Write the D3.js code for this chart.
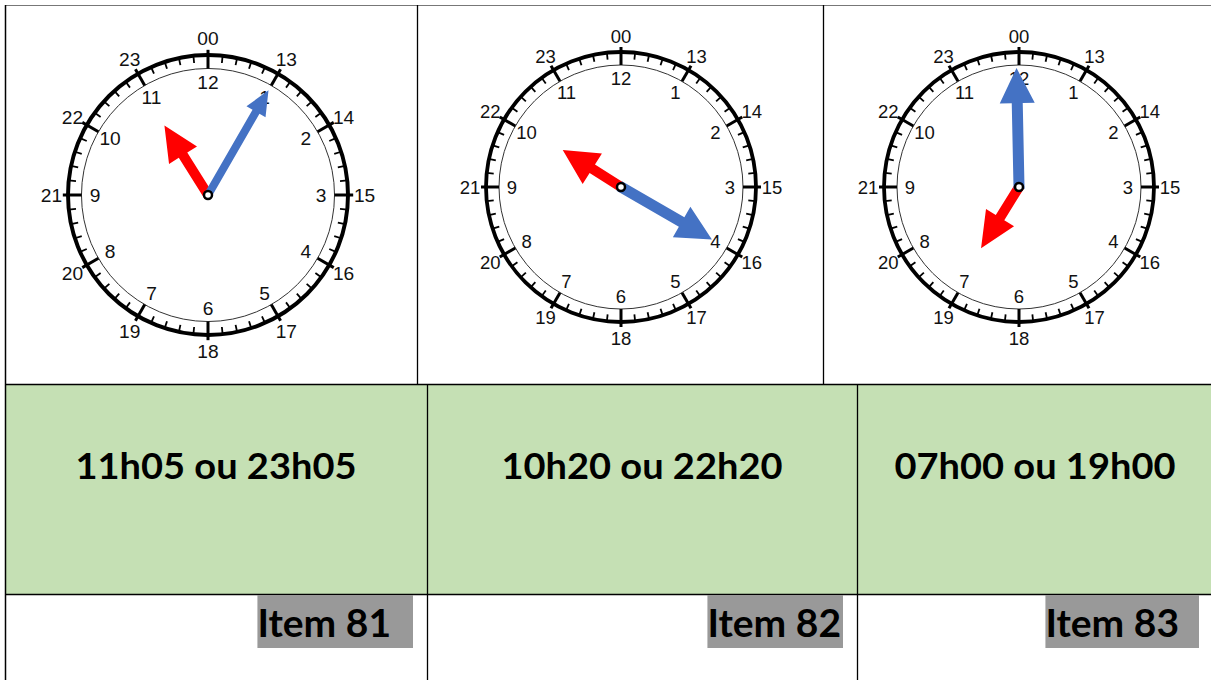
<!DOCTYPE html>
<html>
<head>
<meta charset="utf-8">
<script src="https://cdn.jsdelivr.net/npm/d3@7"></script>
<style>
  body { margin: 0; background: #fff; }
  svg { display: block; }
</style>
</head>
<body>
<svg></svg>
<script>
// values
const times      = ["11h05 ou 23h05", "10h20 ou 22h20", "07h00 ou 19h00"];
const items      = ["Item 81", "Item 82", "Item 83"];
const hourHand   = [10.93, 10.08, 7.06];   // where the red hand points, in dial hours
const minuteHand = [5.0, 20.0, 59.8];      // where the blue hand points, in minutes
const innerLabels = ["12","1","2","3","4","5","6","7","8","9","10","11"];
const outerLabels = ["00","13","14","15","16","17","18","19","20","21","22","23"];

let width = 1211, height = 680,
    topCols = [5, 417, 823, 1213],
    lowCols = [5, 427, 857, 1213],
    rowY = [5, 384, 594, 680],
    itemPad = [22, 2, 20],
    clocks = [
      {cx: 208, cy: 195, r: 140, hour: [82, 10, 33, 35], minute: [121, 8, 22, 25]},
      {cx: 621, cy: 187, r: 135, hour: [69, 10, 36, 35], minute: [105, 11, 35, 35]},
      {cx: 1019, cy: 187, r: 135, hour: [72, 10, 33, 36], minute: [119, 11, 35, 35]}
    ],
    hourScale = d3.scaleLinear().domain([0, 12]).range([0, 360]),
    minuteScale = d3.scaleLinear().domain([0, 60]).range([0, 360]),
    rad = a => (a - 90) * Math.PI / 180,

    svg = d3.select("svg")
            .attr("width", width)
            .attr("height", height);

// green row
svg.append("rect")
    .attr("x", lowCols[0]).attr("y", rowY[1])
    .attr("width", width - lowCols[0]).attr("height", rowY[2] - rowY[1])
    .attr("fill", "#c5e0b4");

// table lines
let grid = svg.append("g").attr("stroke", "#000").attr("fill", "none");
grid.append("line").attr("x1", 5).attr("x2", width).attr("y1", 5.5).attr("y2", 5.5)
    .attr("stroke", "#777").attr("stroke-width", 1);
grid.append("line").attr("x1", 5.5).attr("x2", 5.5).attr("y1", 5).attr("y2", height).attr("stroke-width", 1.5);
[rowY[1], rowY[2]].forEach(y => {
  grid.append("line").attr("x1", 5).attr("x2", width).attr("y1", y + 0.5).attr("y2", y + 0.5).attr("stroke-width", 1.3);
});
topCols.slice(1, 3).forEach(x => {
  grid.append("line").attr("x1", x + 0.5).attr("x2", x + 0.5).attr("y1", 5).attr("y2", rowY[1]).attr("stroke-width", 1.3);
});
lowCols.slice(1, 3).forEach(x => {
  grid.append("line").attr("x1", x + 0.5).attr("x2", x + 0.5).attr("y1", rowY[1]).attr("y2", height).attr("stroke-width", 1.3);
});

// clocks
function handPath(len, shaft, headW, headL) {
  let b = len - headL;
  return `M${-shaft/2},2 L${-shaft/2},${-b} L${-headW/2},${-b} L0,${-len} L${headW/2},${-b} L${shaft/2},${-b} L${shaft/2},2 Z`;
}

clocks.forEach((c, i) => {
  let k = c.r / 135,
      g = svg.append("g").attr("transform", `translate(${c.cx},${c.cy})`);

  g.append("circle").attr("r", c.r).attr("fill", "#fff")
      .attr("stroke", "#000").attr("stroke-width", 3.8 * k);
  g.append("circle").attr("r", c.r - 13 * k).attr("fill", "none")
      .attr("stroke", "#333").attr("stroke-width", 1);

  g.selectAll(".tick")
    .data(d3.range(60))
    .enter()
    .append("line")
      .attr("x1", d => Math.cos(rad(minuteScale(d))) * (d % 5 ? c.r - 7 * k : c.r - 13 * k))
      .attr("y1", d => Math.sin(rad(minuteScale(d))) * (d % 5 ? c.r - 7 * k : c.r - 13 * k))
      .attr("x2", d => Math.cos(rad(minuteScale(d))) * (d % 5 ? c.r : c.r + 5 * k))
      .attr("y2", d => Math.sin(rad(minuteScale(d))) * (d % 5 ? c.r : c.r + 5 * k))
      .attr("stroke", "#000")
      .attr("stroke-width", d => d % 5 ? 1.8 : 3);

  g.selectAll(".inner")
    .data(innerLabels)
    .enter()
    .append("text")
      .attr("x", (d, j) => Math.cos(rad(hourScale(j))) * 109 * k)
      .attr("y", (d, j) => Math.sin(rad(hourScale(j))) * 109 * k)
      .attr("dy", "0.36em")
      .attr("text-anchor", "middle")
      .attr("font-family", "Liberation Sans, Arial")
      .attr("font-size", 18.5 * k)
      .attr("fill", "#111")
      .text(d => d);

  g.selectAll(".outer")
    .data(outerLabels)
    .enter()
    .append("text")
      .attr("x", (d, j) => Math.cos(rad(hourScale(j))) * 151 * k)
      .attr("y", (d, j) => Math.sin(rad(hourScale(j))) * 151 * k)
      .attr("dy", "0.36em")
      .attr("text-anchor", "middle")
      .attr("font-family", "Liberation Sans, Arial")
      .attr("font-size", 18.5 * k)
      .attr("fill", "#111")
      .text(d => d);

  g.append("path")
      .attr("d", handPath(...c.hour))
      .attr("fill", "#ff0000")
      .attr("transform", `rotate(${hourScale(hourHand[i])})`);
  g.append("path")
      .attr("d", handPath(...c.minute))
      .attr("fill", "#4472c4")
      .attr("transform", `rotate(${minuteScale(minuteHand[i])})`);

  g.append("circle").attr("r", 4).attr("fill", "#fff")
      .attr("stroke", "#000").attr("stroke-width", 2.5);
});

// time answers
svg.selectAll(".time")
  .data(times)
  .enter()
  .append("text")
    .attr("x", (d, i) => (lowCols[i] + lowCols[i + 1]) / 2)
    .attr("y", 479)
    .attr("text-anchor", "middle")
    .attr("font-family", "Lato, sans-serif")
    .attr("font-weight", "bold")
    .attr("font-size", 36)
    .attr("textLength", 281)
    .attr("lengthAdjust", "spacingAndGlyphs")
    .attr("fill", "#000")
    .text(d => d);

// item labels with grey highlight
let itemG = svg.selectAll(".item")
  .data(items)
  .enter()
  .append("g");

itemG.each(function(d, i) {
  let g = d3.select(this),
      t = g.append("text")
            .attr("y", 637)
            .attr("font-family", "Lato, sans-serif")
            .attr("font-weight", "bold")
            .attr("font-size", 39)
            .attr("fill", "#000")
            .text(d),
      w = t.node().getComputedTextLength() + itemPad[i],
      right = lowCols[i + 1] - 14;
  g.insert("rect", "text")
      .attr("x", right - w).attr("y", rowY[2] + 1)
      .attr("width", w).attr("height", 53)
      .attr("fill", "#999999");
  t.attr("x", right - w);
});
</script>
</body>
</html>
